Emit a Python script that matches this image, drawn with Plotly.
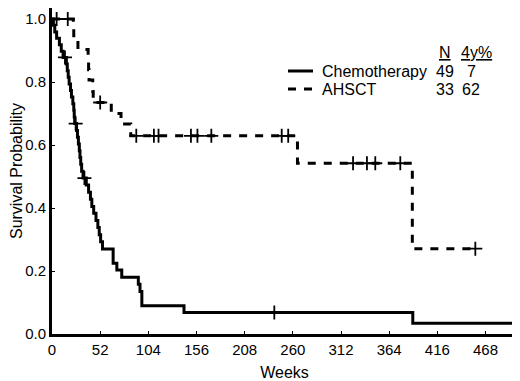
import plotly.graph_objects as go

# ---- data ----
chemo_weeks = [0, 1.5, 3, 5, 8, 10, 12, 15.5, 16.5, 17.5, 18.5, 20, 21, 22.5, 23.5, 24, 24.5,
               26.5, 27.5, 28.5, 29.5, 30.2, 31, 32, 33.5, 37, 39.5, 41.5, 43, 45, 47.5, 49.5,
               51, 52.5, 54.5, 66, 70, 75.3, 93.2, 95, 97, 142.5, 389.5, 502]
chemo_surv = [1.0, 0.980, 0.959, 0.939, 0.918, 0.898, 0.878, 0.857, 0.836, 0.815, 0.794, 0.773,
              0.752, 0.731, 0.710, 0.689, 0.668, 0.646, 0.625, 0.603, 0.582, 0.560, 0.539, 0.517,
              0.495, 0.473, 0.450, 0.428, 0.405, 0.383, 0.360, 0.338, 0.315, 0.293, 0.270, 0.225,
              0.203, 0.180, 0.158, 0.135, 0.090, 0.068, 0.034, 0.034]
chemo_cens_weeks = [14, 25.5, 35, 240]
chemo_cens_surv = [0.878, 0.668, 0.495, 0.068]

ahsct_weeks = [0, 23, 23.5, 28, 39, 39.5, 40, 44, 44.5, 64, 74.5, 85, 265, 389, 457]
ahsct_surv = [1.0, 0.968, 0.936, 0.903, 0.871, 0.839, 0.806, 0.770, 0.735, 0.700, 0.667,
              0.629, 0.542, 0.271, 0.271]
ahsct_cens_weeks = [5, 17, 52, 91, 110, 115, 150, 157, 172, 248, 255, 325, 340, 349, 376, 457]
ahsct_cens_surv = [1.0, 1.0, 0.735, 0.629, 0.629, 0.629, 0.629, 0.629, 0.629, 0.629, 0.629,
                   0.542, 0.542, 0.542, 0.542, 0.271]

x_ticks = [0, 52, 104, 156, 208, 260, 312, 364, 416, 468]
y_ticks = [0.0, 0.2, 0.4, 0.6, 0.8, 1.0]

groups = ["Chemotherapy", "AHSCT"]
n_vals = ["49", "33"]
y4_vals = ["7", "62"]

FONT = "Liberation Sans, Arial, sans-serif"
DASH = "8px,8px"

# page offset of the figure div (browser default body margin)
OFF = 8
W, H = 520 - OFF, 381 - OFF

fig = go.Figure()
fig.add_trace(go.Scatter(x=chemo_weeks, y=chemo_surv, mode="lines", line_shape="hv",
                         line=dict(color="black", width=3), showlegend=False))
fig.add_trace(go.Scatter(x=ahsct_weeks, y=ahsct_surv, mode="lines", line_shape="hv",
                         line=dict(color="black", width=3, dash=DASH), showlegend=False))
fig.add_trace(go.Scatter(x=chemo_cens_weeks, y=chemo_cens_surv, mode="markers",
                         marker=dict(symbol="cross-thin", size=10, line=dict(color="black", width=1.8)),
                         showlegend=False))
fig.add_trace(go.Scatter(x=ahsct_cens_weeks, y=ahsct_cens_surv, mode="markers",
                         marker=dict(symbol="cross-thin", size=10, line=dict(color="black", width=1.8)),
                         showlegend=False))

# plot area in page pixels
L = 52; R = 517; T = 8; B = 334
def px(x):
    return (x - L) / (R - L)
def py(y):
    return (B - y) / (B - T)

leg_y = [71, 89]
dashes = ["solid", DASH]
for i, g in enumerate(groups):
    fig.add_shape(type="line", xref="paper", yref="paper",
                  x0=px(288), x1=px(313), y0=py(leg_y[i]), y1=py(leg_y[i]),
                  line=dict(color="black", width=3, dash=dashes[i]))
    fig.add_annotation(xref="paper", yref="paper", x=px(320), y=py(leg_y[i]), text=g,
                       showarrow=False, xanchor="left", yanchor="middle",
                       font=dict(size=16, color="black", family=FONT))
    fig.add_annotation(xref="paper", yref="paper", x=px(445), y=py(leg_y[i]), text=n_vals[i],
                       showarrow=False, xanchor="center", yanchor="middle",
                       font=dict(size=16, color="black", family=FONT))
    fig.add_annotation(xref="paper", yref="paper", x=px(471), y=py(leg_y[i]), text=y4_vals[i],
                       showarrow=False, xanchor="center", yanchor="middle",
                       font=dict(size=16, color="black", family=FONT))
fig.add_annotation(xref="paper", yref="paper", x=px(445), y=py(52), text="<u>N</u>",
                   showarrow=False, xanchor="center", yanchor="middle",
                   font=dict(size=16, color="black", family=FONT))
fig.add_annotation(xref="paper", yref="paper", x=px(476), y=py(52), text="<u>4y%</u>",
                   showarrow=False, xanchor="center", yanchor="middle",
                   font=dict(size=16, color="black", family=FONT))

y_top = (B - T) / 315.0

fig.update_layout(
    width=W, height=H,
    margin=dict(l=L - OFF, r=520 - R, t=T - OFF, b=381 - B, autoexpand=False),
    paper_bgcolor="white", plot_bgcolor="white",
    font=dict(family=FONT, size=15, color="black"),
    xaxis=dict(range=[0, 502], tickvals=x_ticks, ticktext=[str(v) for v in x_ticks],
               showgrid=False, zeroline=False, showline=True, linecolor="black", linewidth=3,
               ticks="inside", ticklen=3, tickwidth=1, tickcolor="black",
               title=dict(text="Weeks", font=dict(size=16), standoff=11)),
    yaxis=dict(range=[0, y_top], tickvals=y_ticks, ticktext=[f"{v:.1f}" for v in y_ticks],
               showgrid=False, zeroline=False, showline=True, linecolor="black", linewidth=3,
               ticks="inside", ticklen=3, tickwidth=1, tickcolor="black",
               title=dict(text="Survival Probability", font=dict(size=16), standoff=7)),
)

fig.write_html("out.html")
